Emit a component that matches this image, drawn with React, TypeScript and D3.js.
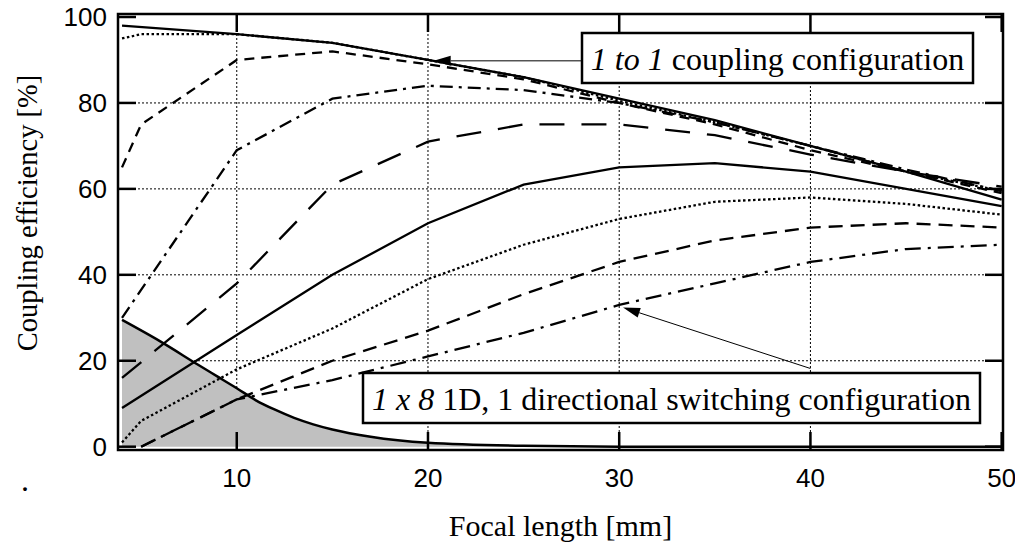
import React from 'react';
import * as d3 from 'd3';

const W = 1015;
const H = 547;
const frame = { left: 118, right: 1003, top: 14, bottom: 450 };

const xTicks = [10, 20, 30, 40, 50];
const yTicks = [0, 20, 40, 60, 80, 100];
const xGrid = [10, 20, 30, 40];
const yGrid = [20, 40, 60, 80];

// focal length samples [mm]
const focalA = [4, 10, 15, 20, 25, 30, 35, 40, 45, 50];
const focalB = [4, 5, 10, 15, 20, 25, 30, 35, 40, 45, 50];
const focalC = [5, 10, 15, 20, 25, 30, 35, 40, 45, 50];

// 1 to 1 coupling configuration [%]
const oneToOneSolid = [98, 96, 94, 90, 86, 81, 76, 70, 64, 57.5];
const oneToOneDotted = [95, 96, 96, 94, 90, 86, 80.5, 75.5, 70, 64, 59.5];
const oneToOneDashed = [65, 75, 90, 92, 89, 85.5, 80, 75, 69, 64, 59];
const oneToOneDashDot = [30, 69, 81, 84, 83, 80, 75.5, 70, 64.5, 59.5];
const oneToOneLongDash = [16, 38, 61, 71, 75, 75, 72.5, 68, 64, 60.5];

// 1 x 8 switching configuration [%]
const switchSolid = [9, 26, 40, 52, 61, 65, 66, 64, 60, 56];
const switchDotted = [1, 6, 18, 27.5, 39, 47, 53, 57, 58, 56.5, 54];
const switchDashed = [0, 11, 20, 27, 35.5, 43, 48, 51, 52, 51];
const switchDashDot = [0, 11, 15.5, 21, 26.5, 33, 38, 43, 46, 47];

// shaded curve
const shadeFocal = [4, 6, 8, 9, 10, 11, 12, 13, 14, 15, 17, 20, 25, 30, 40, 50];
const shadeValues = [29.5, 24.5, 19, 16.3, 13.6, 10.8, 8.6, 6.7, 5.2, 4.0, 2.3, 0.9, 0.2, 0, 0, 0];

const x = d3.scaleLinear().domain([3.79, 50.07]).range([frame.left, frame.right]);
const y = d3.scaleLinear().domain([-0.77, 100.7]).range([frame.bottom, frame.top]);

type Series = { xs: number[]; ys: number[]; dash?: string };

const series: Series[] = [
  { xs: focalA, ys: oneToOneSolid },
  { xs: focalB, ys: oneToOneDotted, dash: '2.5,2.5' },
  { xs: focalB, ys: oneToOneDashed, dash: '10,7' },
  { xs: focalA, ys: oneToOneDashDot, dash: '13,6,3,6' },
  { xs: focalA, ys: oneToOneLongDash, dash: '25,17' },
  { xs: focalA, ys: switchSolid },
  { xs: focalB, ys: switchDotted, dash: '2.5,2.5' },
  { xs: focalC, ys: switchDashed, dash: '14,8' },
  { xs: focalC, ys: switchDashDot, dash: '16,7,3,7' },
];

const line = d3
  .line<[number, number]>()
  .x((d) => x(d[0]))
  .y((d) => y(d[1]));

const smooth = d3
  .line<[number, number]>()
  .x((d) => x(d[0]))
  .y((d) => y(d[1]))
  .curve(d3.curveMonotoneX);

const shadeArea = d3
  .area<[number, number]>()
  .x((d) => x(d[0]))
  .y0(() => y(0))
  .y1((d) => y(d[1]))
  .curve(d3.curveMonotoneX);

const zip = (xs: number[], ys: number[]) => xs.map((v, i) => [v, ys[i]] as [number, number]);

const serif = '"Liberation Serif", "Times New Roman", serif';
const sans = '"Liberation Sans", Arial, sans-serif';
const TICK = 18;

function Arrow({ from, to }: { from: [number, number]; to: [number, number] }) {
  const x1 = x(from[0]);
  const y1 = y(from[1]);
  const x2 = x(to[0]);
  const y2 = y(to[1]);
  const ang = Math.atan2(y2 - y1, x2 - x1);
  const len = 17;
  const half = 5;
  const bx = x2 - len * Math.cos(ang);
  const by = y2 - len * Math.sin(ang);
  const px = -Math.sin(ang) * half;
  const py = Math.cos(ang) * half;
  return (
    <g>
      <line x1={x1} y1={y1} x2={bx} y2={by} stroke="#000" strokeWidth={1} />
      <polygon points={`${x2},${y2} ${bx + px},${by + py} ${bx - px},${by - py}`} fill="#000" />
    </g>
  );
}

export default function App() {
  const boxes = [
    { x0: 582, x1: 973, y0: 33, y1: 83, italic: '1 to 1', rest: ' coupling configuration' },
    { x0: 363, x1: 980, y0: 373, y1: 423, italic: '1 x 8', rest: ' 1D, 1 directional switching configuration' },
  ];
  const midX = (frame.left + frame.right) / 2;
  return (
    <svg
      width={W}
      height={H}
      style={{ position: 'absolute', left: 0, top: 0, background: '#fff' }}
    >
      <rect width={W} height={H} fill="#fff" />
      {/* grid */}
      {xGrid.map((t) => (
        <line key={'gx' + t} x1={x(t)} x2={x(t)} y1={frame.top} y2={frame.bottom}
          stroke="#000" strokeWidth={1} strokeDasharray="2,2" />
      ))}
      {yGrid.map((t) => (
        <line key={'gy' + t} x1={frame.left} x2={frame.right} y1={y(t)} y2={y(t)}
          stroke="#000" strokeWidth={1} strokeDasharray="2,2" />
      ))}
      {/* shaded region */}
      <path d={shadeArea(zip(shadeFocal, shadeValues)) || ''} fill="#c0c0c0" />
      <path d={smooth(zip(shadeFocal, shadeValues)) || ''} fill="none" stroke="#000" strokeWidth={2.5} />
      {/* curves */}
      {series.map((s, i) => (
        <path key={i} d={line(zip(s.xs, s.ys)) || ''} fill="none" stroke="#000"
          strokeWidth={2.3} strokeDasharray={s.dash} />
      ))}
      {/* frame */}
      <rect x={frame.left} y={frame.top} width={frame.right - frame.left} height={frame.bottom - frame.top}
        fill="none" stroke="#000" strokeWidth={2.5} />
      {xTicks.map((t) => (
        <g key={'tx' + t}>
          <line x1={x(t)} x2={x(t)} y1={frame.bottom} y2={frame.bottom - TICK} stroke="#000" strokeWidth={2.5} />
          <line x1={x(t)} x2={x(t)} y1={frame.top} y2={frame.top + TICK} stroke="#000" strokeWidth={2.5} />
          <text x={x(t)} y={487} textAnchor="middle" fontFamily={sans} fontSize={26}>{t}</text>
        </g>
      ))}
      {yTicks.map((t) => (
        <g key={'ty' + t}>
          <line x1={frame.left} x2={frame.left + TICK} y1={y(t)} y2={y(t)} stroke="#000" strokeWidth={2.5} />
          <line x1={frame.right} x2={frame.right - TICK} y1={y(t)} y2={y(t)} stroke="#000" strokeWidth={2.5} />
          <text x={107} y={y(t)} textAnchor="end" dominantBaseline="central" fontFamily={sans} fontSize={26}>{t}</text>
        </g>
      ))}
      {/* axis titles */}
      <text x={midX} y={536} textAnchor="middle" fontFamily={serif} fontSize={30}>Focal length [mm]</text>
      <text transform="translate(37,213) rotate(-90)" textAnchor="middle" fontFamily={serif} fontSize={28.5}>
        Coupling efficiency [%]
      </text>
      <text x={25} y={491} textAnchor="middle" fontFamily={serif} fontSize={32}>.</text>
      {/* annotations */}
      <Arrow from={[28.0, 89.8]} to={[20.3, 89.8]} />
      <Arrow from={[40.0, 18.2]} to={[30.2, 32.4]} />
      {boxes.map((b, i) => (
        <g key={'b' + i}>
          <rect x={b.x0} y={b.y0} width={b.x1 - b.x0} height={b.y1 - b.y0} fill="#fff" stroke="#000" strokeWidth={2.5} />
          <text x={(b.x0 + b.x1) / 2} y={b.y1 - 13} textAnchor="middle" fontFamily={serif} fontSize={32}>
            <tspan fontStyle="italic">{b.italic}</tspan>
            <tspan>{b.rest}</tspan>
          </text>
        </g>
      ))}
    </svg>
  );
}
